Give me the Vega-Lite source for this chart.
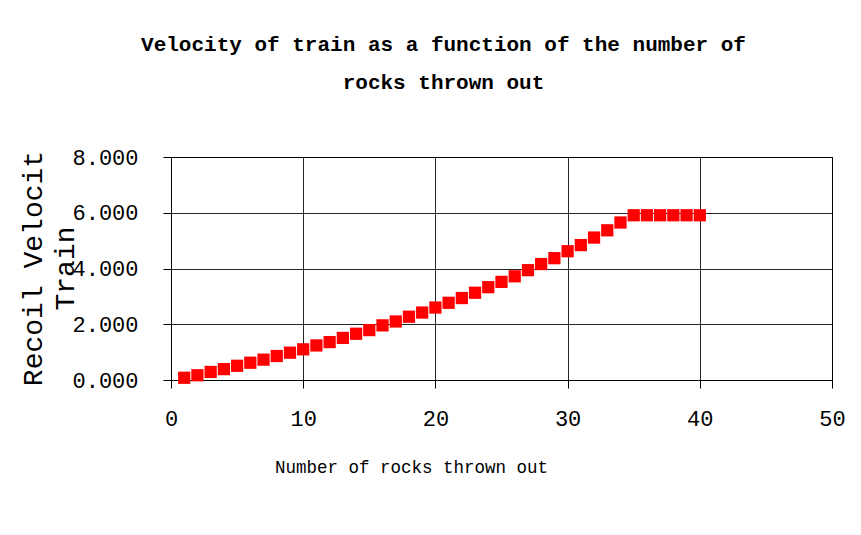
{
  "$schema": "https://vega.github.io/schema/vega-lite/v6.json",
  "autosize": "none",
  "width": 661,
  "height": 223,
  "padding": {"left": 171, "top": 157, "right": 29, "bottom": 155},
  "background": "white",
  "config": {
    "view": {"stroke": "black", "strokeWidth": 1},
    "axis": {
      "labelFont": "Liberation Mono",
      "titleFont": "Liberation Mono",
      "labelColor": "black",
      "titleColor": "black",
      "domainColor": "black",
      "tickColor": "black",
      "gridColor": "black",
      "gridOpacity": 0.85,
      "tickSize": 8,
      "titleFontWeight": "normal"
    }
  },
  "title": {
    "text": ["Velocity of train as a function of the number of", "rocks thrown out"],
    "font": "Liberation Mono",
    "fontWeight": "bold",
    "fontSize": 21,
    "lineHeight": 38,
    "color": "black",
    "dx": -58,
    "offset": 53
  },
  "data": {
    "values": [
      {"rocks": 1, "velocity": 0.08},
      {"rocks": 2, "velocity": 0.17},
      {"rocks": 3, "velocity": 0.29},
      {"rocks": 4, "velocity": 0.39},
      {"rocks": 5, "velocity": 0.51},
      {"rocks": 6, "velocity": 0.62},
      {"rocks": 7, "velocity": 0.73},
      {"rocks": 8, "velocity": 0.86},
      {"rocks": 9, "velocity": 0.98},
      {"rocks": 10, "velocity": 1.10},
      {"rocks": 11, "velocity": 1.24},
      {"rocks": 12, "velocity": 1.36},
      {"rocks": 13, "velocity": 1.51},
      {"rocks": 14, "velocity": 1.66},
      {"rocks": 15, "velocity": 1.79},
      {"rocks": 16, "velocity": 1.96},
      {"rocks": 17, "velocity": 2.10},
      {"rocks": 18, "velocity": 2.27},
      {"rocks": 19, "velocity": 2.42},
      {"rocks": 20, "velocity": 2.60},
      {"rocks": 21, "velocity": 2.77},
      {"rocks": 22, "velocity": 2.94},
      {"rocks": 23, "velocity": 3.13},
      {"rocks": 24, "velocity": 3.33},
      {"rocks": 25, "velocity": 3.52},
      {"rocks": 26, "velocity": 3.72},
      {"rocks": 27, "velocity": 3.94},
      {"rocks": 28, "velocity": 4.16},
      {"rocks": 29, "velocity": 4.37},
      {"rocks": 30, "velocity": 4.62},
      {"rocks": 31, "velocity": 4.84},
      {"rocks": 32, "velocity": 5.11},
      {"rocks": 33, "velocity": 5.37},
      {"rocks": 34, "velocity": 5.65},
      {"rocks": 35, "velocity": 5.91},
      {"rocks": 36, "velocity": 5.91},
      {"rocks": 37, "velocity": 5.91},
      {"rocks": 38, "velocity": 5.91},
      {"rocks": 39, "velocity": 5.91},
      {"rocks": 40, "velocity": 5.91}
    ]
  },
  "mark": {"type": "point", "shape": "square", "filled": true, "color": "#ff0000", "opacity": 1, "size": 150},
  "encoding": {
    "x": {
      "field": "rocks",
      "type": "quantitative",
      "scale": {"domain": [0, 50], "nice": false, "zero": true},
      "axis": {
        "title": "Number of rocks thrown out",
        "values": [0, 10, 20, 30, 40, 50],
        "labelFontSize": 22,
        "labelPadding": 20,
        "titleFontSize": 17.5,
        "titleX": 240,
        "titleY": 78,
        "titleBaseline": "top",
        "labelFlush": false
      }
    },
    "y": {
      "field": "velocity",
      "type": "quantitative",
      "scale": {"domain": [0, 8], "nice": false},
      "axis": {
        "title": ["Recoil Velocit", "Train"],
        "values": [0, 2, 4, 6, 8],
        "format": ".3f",
        "labelFontSize": 22,
        "labelPadding": 25,
        "titleFontSize": 28,
        "titleLineHeight": 32,
        "titleX": -124,
        "titleY": 111,
        "titleAngle": -90,
        "titleAlign": "center",
        "titleBaseline": "bottom",
        "labelFlush": false
      }
    }
  }
}
